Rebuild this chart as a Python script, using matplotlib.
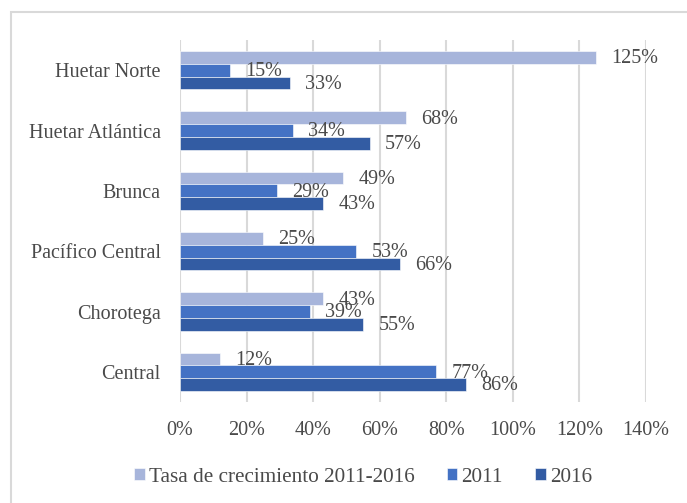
import numpy as np
import matplotlib
matplotlib.use('Agg')
import matplotlib.pyplot as plt
from matplotlib.patches import Rectangle

# data (bottom to top, like the excel chart)
regiones = ['Central', 'Chorotega', 'Pacífico Central', 'Brunca', 'Huetar Atlántica', 'Huetar Norte']
tasa = [12, 43, 25, 49, 68, 125]
v2011 = [77, 39, 53, 29, 34, 15]
v2016 = [86, 55, 66, 43, 57, 33]
series = ['Tasa de crecimiento 2011-2016', '2011', '2016']
colores = ['#A7B5DB', '#4472C4', '#335CA3']
xticks = [0, 20, 40, 60, 80, 100, 120, 140]

txt = '#4a4a4a'
plt.rcParams['font.family'] = ['Liberation Serif', 'DejaVu Serif']

fig = plt.figure(figsize=(6.87, 5.03), dpi=100)
W, H = 687, 503
ax = fig.add_axes([180/W, 1-402/H, (646-180)/W, (402-40)/H])

# outer chart border (cut off at right/bottom in the original)
fig.patches.append(Rectangle((11/W, -0.1), 1.2, 1-12/H+0.1, transform=fig.transFigure,
                             fill=False, edgecolor='#D9D9D9', linewidth=1.5))

y = np.arange(len(regiones))
h = 0.21
offs = [h, 0, -h]
for vals, off, c, lab in zip([tasa, v2011, v2016], offs, colores, series):
    bars = ax.barh(y + off, vals, height=h, color=c, edgecolor='white', linewidth=0.4, label=lab, zorder=3)
    for b, v in zip(bars, vals):
        ax.annotate(str(v) + '%', xy=(v, b.get_y() + b.get_height()/2), xytext=(11, -1),
                    textcoords='offset points', ha='left', va='center', fontsize=14.5, color=txt, zorder=4)

ax.set_xlim(0, 140)
ax.set_ylim(-0.5, len(regiones) - 0.5)
ax.set_xticks(xticks)
ax.set_xticklabels([str(t) + '%' for t in xticks])
ax.set_yticks(y)
ax.set_yticklabels(regiones)
ax.tick_params(axis='both', length=0, labelsize=14.5, labelcolor=txt)
ax.tick_params(axis='x', pad=14)
ax.tick_params(axis='y', pad=14)
ax.grid(axis='x', color='#D9D9D9', linewidth=1.5, zorder=0)
for s in ax.spines.values():
    s.set_visible(False)

ax.legend(loc='center', bbox_to_anchor=(363/W, 1-477/H), bbox_transform=fig.transFigure, ncol=3,
          frameon=False, fontsize=15.3, handlelength=0.5, handleheight=0.5, handletextpad=0.2,
          columnspacing=1.5, labelcolor=txt)

plt.savefig('out.png', dpi=100)
